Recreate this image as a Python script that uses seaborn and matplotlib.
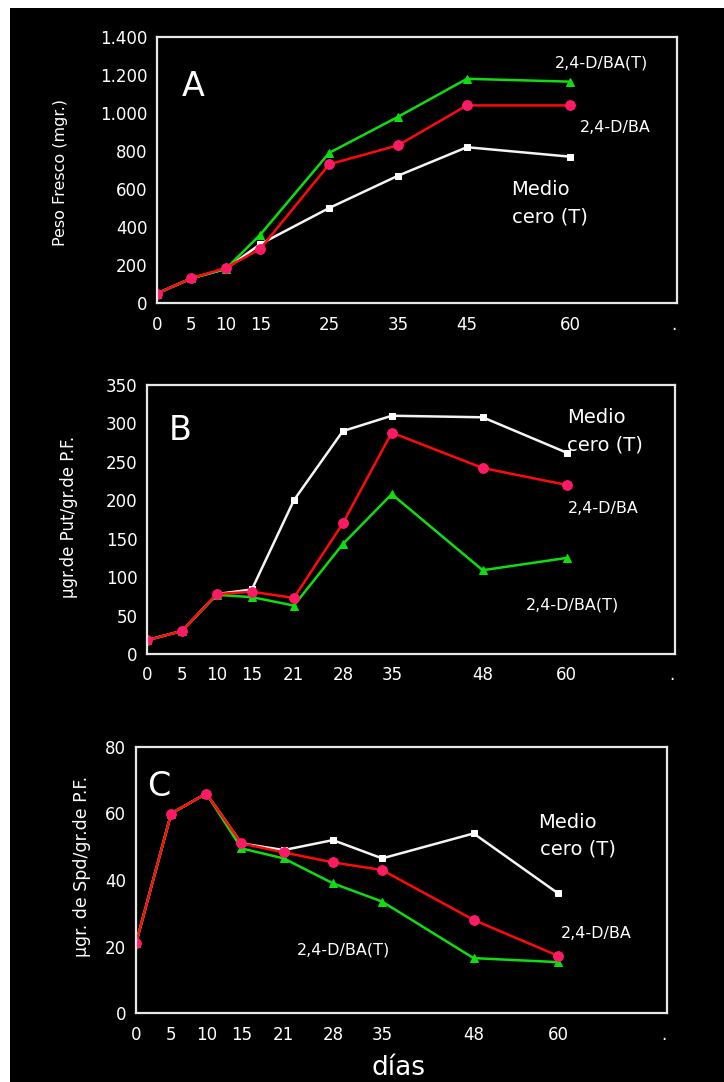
import numpy as np
import pandas as pd
import matplotlib
matplotlib.use("Agg")
import matplotlib.pyplot as plt
from matplotlib.patches import Rectangle
import seaborn as sns

sns.set_theme(style="dark")
plt.rcParams['font.family'] = ['DejaVu Sans']

series_names = ["Medio cero (T)", "2,4-D/BA(T)", "2,4-D/BA"]

# Panel A: Peso fresco
days_A = [0, 5, 10, 15, 25, 35, 45, 60]
medio_A = [50, 130, 180, 310, 500, 670, 820, 770]
dbat_A = [50, 130, 180, 360, 790, 980, 1180, 1165]
dba_A = [50, 130, 185, 285, 730, 830, 1040, 1040]

# Panel B: Put
days_B = [0, 5, 10, 15, 21, 28, 35, 48, 60]
medio_B = [18, 30, 78, 84, 200, 290, 310, 308, 262]
dbat_B = [18, 30, 77, 74, 63, 143, 208, 109, 125]
dba_B = [18, 30, 78, 81, 73, 170, 288, 242, 220]

# Panel C: Spd
days_C = [0, 5, 10, 15, 21, 28, 35, 48, 60]
medio_C = [21, 60, 66, 51, 49, 52, 46.5, 54, 36]
dbat_C = [21, 60, 66, 49.5, 46.5, 39, 33.5, 16.5, 15.3]
dba_C = [21, 60, 66, 51, 48.3, 45.3, 43, 28, 17.2]

ticks_A = [0, 5, 10, 15, 25, 35, 45, 60, 75]
ticklabels_A = ["0", "5", "10", "15", "25", "35", "45", "60", "."]
ticks_BC = [0, 5, 10, 15, 21, 28, 35, 48, 60, 75]
ticklabels_BC = ["0", "5", "10", "15", "21", "28", "35", "48", "60", "."]

yticks_A = [0, 200, 400, 600, 800, 1000, 1200, 1400]
yticklabels_A = ["0", "200", "400", "600", "800", "1.000", "1.200", "1.400"]
yticks_B = [0, 50, 100, 150, 200, 250, 300, 350]
yticks_C = [0, 20, 40, 60, 80]

ylabels = ["Peso Fresco (mgr.)", "µgr.de Put/gr.de P.F.", "µgr. de Spd/gr.de P.F."]

palette = {"Medio cero (T)": "#f4f4f4", "2,4-D/BA(T)": "#10dd10", "2,4-D/BA": "#ff0a0a"}
markers = {"Medio cero (T)": "s", "2,4-D/BA(T)": "^", "2,4-D/BA": "o"}
mfc = {"Medio cero (T)": "#ffffff", "2,4-D/BA(T)": "#10dd10", "2,4-D/BA": "#ff1a66"}
msize = {"Medio cero (T)": 4.5, "2,4-D/BA(T)": 6, "2,4-D/BA": 7}


def long_df(days, med, dbat, dba):
    rows = []
    for name, vals in zip(series_names, [med, dbat, dba]):
        for d, v in zip(days, vals):
            rows.append({"dia": d, "valor": v, "serie": name})
    return pd.DataFrame(rows)


fig = plt.figure(figsize=(7.24, 10.82), dpi=100)
fig.patch.set_facecolor("white")
fig.add_artist(Rectangle((10 / 724, -0.01), 1.0, 1.01 - 8 / 1082,
                         transform=fig.transFigure, facecolor="black",
                         edgecolor="none", zorder=-10))

positions = [
    [157 / 724, 1 - 303 / 1082, 520 / 724, 266 / 1082],
    [147 / 724, 1 - 654 / 1082, 528 / 724, 269 / 1082],
    [136 / 724, 1 - 1013 / 1082, 531 / 724, 266 / 1082],
]

panels = [
    (long_df(days_A, medio_A, dbat_A, dba_A), (0, 1400), yticks_A, yticklabels_A, ticks_A, ticklabels_A),
    (long_df(days_B, medio_B, dbat_B, dba_B), (0, 350), yticks_B, [str(v) for v in yticks_B], ticks_BC, ticklabels_BC),
    (long_df(days_C, medio_C, dbat_C, dba_C), (0, 80), yticks_C, [str(v) for v in yticks_C], ticks_BC, ticklabels_BC),
]

ylabel_pos = [(-0.185, 0.49), (-0.148, 0.51), (-0.102, 0.55)]
ylabel_size = [11.5, 12, 12.5]

axes = []
for i, (df, ylim, yt, ytl, xt, xtl) in enumerate(panels):
    ax = fig.add_axes(positions[i])
    ax.set_facecolor("black")
    for name in series_names:
        sub = df[df["serie"] == name]
        sns.lineplot(data=sub, x="dia", y="valor", ax=ax, color=palette[name],
                     marker=markers[name], markersize=msize[name],
                     markerfacecolor=mfc[name], markeredgecolor=mfc[name],
                     linewidth=1.8, legend=False, errorbar=None)
    ax.set_xlim(0, 75.5)
    ax.set_ylim(*ylim)
    ax.set_xticks(xt)
    ax.set_xticklabels(xtl)
    ax.set_yticks(yt)
    ax.set_yticklabels(ytl)
    ax.tick_params(axis="both", length=0, colors="white", labelsize=12)
    ax.tick_params(axis="x", pad=9)
    ax.tick_params(axis="y", pad=7)
    ax.grid(False)
    for sp in ax.spines.values():
        sp.set_visible(True)
        sp.set_color("#e8e8e8")
        sp.set_linewidth(1.6)
    ax.set_xlabel("")
    ax.set_ylabel("")
    ax.text(ylabel_pos[i][0], ylabel_pos[i][1], ylabels[i], rotation=90,
            ha="center", va="center", color="white", fontsize=ylabel_size[i],
            transform=ax.transAxes)
    axes.append(ax)

axA, axB, axC = axes
txt = dict(color="white", ha="center", va="center")

axA.text(5.3, 1137, "A", fontsize=24, **txt)
axA.text(64.6, 1263, "2,4-D/BA(T)", fontsize=11.5, **txt)
axA.text(66.5, 926, "2,4-D/BA", fontsize=11.5, **txt)
axA.text(55.6, 595, "Medio", fontsize=14, **txt)
axA.text(57.0, 453, "cero (T)", fontsize=14, **txt)

axB.text(4.7, 291, "B", fontsize=24, **txt)
axB.text(64.2, 308, "Medio", fontsize=14, **txt)
axB.text(65.5, 272, "cero (T)", fontsize=14, **txt)
axB.text(65.3, 189, "2,4-D/BA", fontsize=11.5, **txt)
axB.text(60.9, 64, "2,4-D/BA(T)", fontsize=11.5, **txt)

axC.text(3.2, 68, "C", fontsize=24, **txt)
axC.text(61.3, 57.4, "Medio", fontsize=14, **txt)
axC.text(62.9, 49.3, "cero (T)", fontsize=14, **txt)
axC.text(65.4, 24, "2,4-D/BA", fontsize=11.5, **txt)
axC.text(29.5, 19, "2,4-D/BA(T)", fontsize=11.5, **txt)
axC.text(0.495, -0.207, "días", fontsize=19, color="white", ha="center",
         va="center", transform=axC.transAxes)

fig.savefig("out.png", dpi=100, facecolor=fig.get_facecolor())
